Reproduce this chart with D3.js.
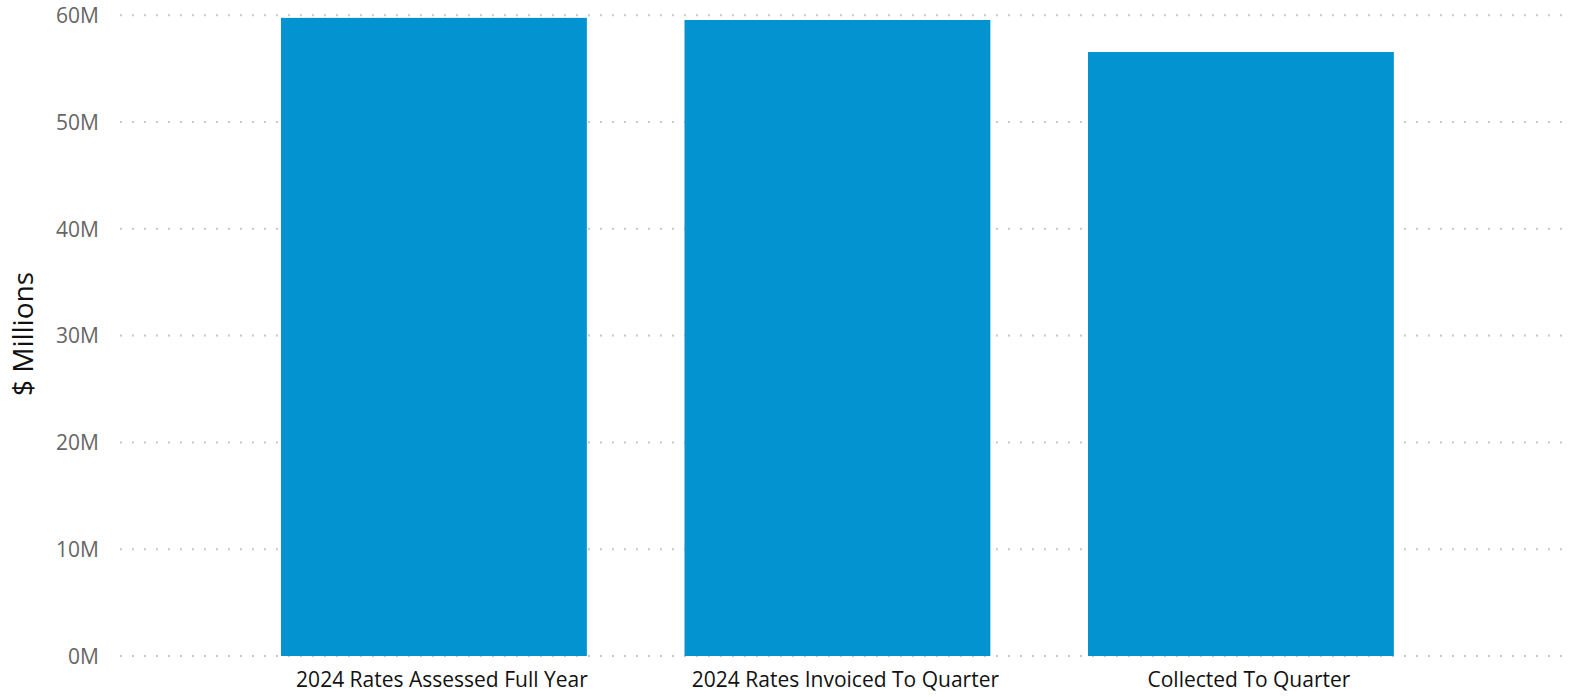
<!DOCTYPE html>
<html>
<head>
<meta charset="utf-8">
<script src="https://cdn.jsdelivr.net/npm/d3@7"></script>
<style>
  html, body { margin: 0; padding: 0; background: #fff; }
  svg { display: block; }
</style>
</head>
<body>
<svg id="chart" width="1592" height="697"></svg>
<script>
const categories = ["2024 Rates Assessed Full Year", "2024 Rates Invoiced To Quarter", "Collected To Quarter"];
const values = [59.75, 59.55, 56.55];
const yTicks = [0, 10, 20, 30, 40, 50, 60];
const yTickLabels = ["0M", "10M", "20M", "30M", "40M", "50M", "60M"];
const yAxisTitle = "$ Millions";

const W = 1592, H = 697;
const svg = d3.select("#chart");
const font = "'Open Sans', 'Noto Sans', sans-serif";

const plotLeft = 120, plotRight = 1572;
const y = d3.scaleLinear().domain([0, 60]).range([656, 15.2]);

const step = 403.5, padInner = 0.242, padOuter = 0.5;
const x0 = 281 - padOuter * step;
const x1 = x0 + step * (categories.length - padInner + 2 * padOuter);
const x = d3.scaleBand().domain(categories).range([x0, x1])
  .paddingInner(padInner).paddingOuter(padOuter);

// gridlines
const grid = svg.append("g");
grid.selectAll("line").data(yTicks).join("line")
  .attr("x1", plotLeft).attr("x2", plotRight)
  .attr("y1", d => y(d)).attr("y2", d => y(d))
  .attr("stroke", "#c8c8c8").attr("stroke-width", 2)
  .attr("stroke-dasharray", "2,10");

// y axis labels
const yAxis = d3.axisLeft(y).tickValues(yTicks)
  .tickFormat((d, i) => yTickLabels[i]).tickSize(0).tickPadding(0);
const yg = svg.append("g").attr("transform", "translate(99,0)").call(yAxis);
yg.select(".domain").remove();
yg.selectAll("text").attr("font-family", font).attr("font-size", 21)
  .attr("fill", "#666666").attr("dy", "0.35em");

// bars
svg.append("g").selectAll("rect").data(values).join("rect")
  .attr("x", (d, i) => x(categories[i]))
  .attr("width", x.bandwidth())
  .attr("y", d => y(d))
  .attr("height", d => y(0) - y(d))
  .attr("fill", "#0293d0");

// x axis labels
const xAxis = d3.axisBottom(x).tickSize(0).tickPadding(0);
const xg = svg.append("g").attr("transform", "translate(8,672)").call(xAxis);
xg.select(".domain").remove();
xg.selectAll("text").attr("font-family", font).attr("font-size", 21)
  .attr("fill", "#111111").attr("dy", "0.71em");

// y axis title
svg.append("text")
  .attr("transform", "translate(33,334) rotate(-90)")
  .attr("text-anchor", "middle")
  .attr("font-family", font).attr("font-size", 28)
  .attr("fill", "#111111")
  .text(yAxisTitle);
</script>
</body>
</html>
